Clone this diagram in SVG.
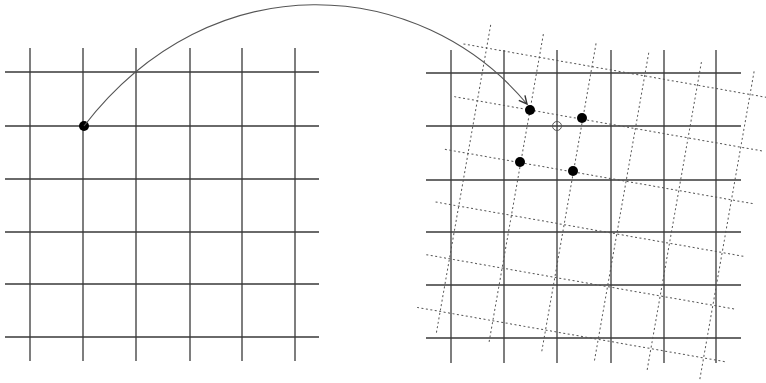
<svg xmlns="http://www.w3.org/2000/svg" width="766" height="383" viewBox="0 0 766 383">
<style>
.g{stroke:#3a3a3a;stroke-width:1.3;fill:none}
.d{stroke:#555;stroke-width:1;stroke-dasharray:2 2.5;fill:none}
.dot{fill:#000}
.conn{stroke:#555;stroke-width:1.1;fill:none}
</style>
<defs>
<marker id="ah" viewBox="0 0 10 10" refX="9" refY="5" markerWidth="10" markerHeight="10" markerUnits="userSpaceOnUse" orient="auto">
<path d="M1,1 L9,5 L1,9" fill="none" stroke="#333" stroke-width="1.4"/>
</marker>
</defs>
<rect width="766" height="383" fill="#fff"/>
<g id="left-grid" class="g">
<path d="M30,48V361M83,48V361M136,48V361M190,48V361M242,48V361M295,48V361"/>
<path d="M5,72H319M5,126H319M5,179H319M5,232H319M5,284H319M5,337H319"/>
</g>
<g id="right-grid" class="g">
<path d="M451,50V363M504,50V363M557,50V363M611,50V363M664,50V363M716,50V363"/>
<path d="M426,73H741M426,126H741M426,180H741M426,232H741M426,285H741M426,338H741"/>
</g>
<g id="rotated-grid" class="d" transform="translate(530,110) rotate(10)">
<path d="M-53.5,-77V236M0,-77V236M53.5,-77V236M107,-77V236M160.5,-77V236M214,-77V236"/>
<path d="M-77,-53.5H236M-77,0H236M-77,53.5H236M-77,107H236M-77,160.5H236M-77,214H236"/>
</g>
<g id="source-point"><circle class="dot" cx="84" cy="126" r="5"/></g>
<g id="target-points">
<circle class="dot" cx="530" cy="110" r="5"/>
<circle class="dot" cx="582" cy="118" r="5"/>
<circle class="dot" cx="520" cy="162" r="5"/>
<circle class="dot" cx="573" cy="171" r="5"/>
</g>
<g id="grid-node"><circle cx="557" cy="126" r="4.5" fill="none" stroke="#555" stroke-width="1"/></g>
<g id="connectors">
<path class="conn" d="M84,126 C212,-40 420,-24 527,104" marker-end="url(#ah)"/>
</g>
</svg>
